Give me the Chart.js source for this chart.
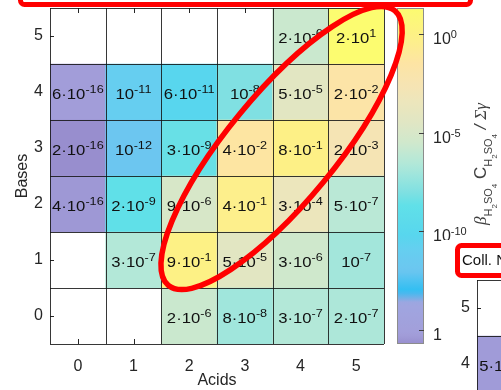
<!DOCTYPE html>
<html>
<head>
<meta charset="utf-8">
<script src="https://cdn.jsdelivr.net/npm/chart.js@4/dist/chart.umd.min.js"></script>
<style>
  html, body { margin: 0; padding: 0; background: #fff; overflow: hidden; width: 501px; height: 390px; }
  body { position: relative; }
  #main { position: absolute; left: 0; top: 0; }
  #side { position: absolute; left: 442px; top: 240px; }
</style>
</head>
<body>
<canvas id="main" width="501" height="390"></canvas>
<canvas id="side" width="380" height="440"></canvas>
<script>
// ---- data ---------------------------------------------------------------
const acids = ['0', '1', '2', '3', '4', '5'];
const bases = [0, 1, 2, 3, 4, 5];

// normalised rate per (bases, acids) cluster; null = no cluster
const base0 = [null, null, 2e-6, 8e-8, 3e-7, 2e-7];
const base1 = [null, 3e-7, 9e-1, 5e-5, 3e-6, 1e-7];
const base2 = [4e-16, 2e-9, 9e-6, 4e-1, 3e-4, 5e-7];
const base3 = [2e-16, 1e-12, 3e-9, 4e-2, 8e-1, 2e-3];
const base4 = [6e-16, 1e-11, 6e-11, 1e-8, 5e-5, 2e-2];
const base5 = [null, null, null, null, 2e-6, 2e1];

const colorbarTicks = [1e0, 1e-5, 1e-10, 1e-15];

// neighbouring panel (collision nucleation)
const collTitle = 'Coll. Nucl.';
const collBase4 = [5e-16];

// ---- styling ------------------------------------------------------------
const FONT = "'Liberation Sans', Arial, Helvetica, sans-serif";
const SERIF = "'Liberation Serif', 'DejaVu Serif', serif";
const INK = '#262626';

// colour ramp, keyed on log10 of the value (top -> bottom of the colour bar)
const ramp = [
  [1.3,   [252, 252, 112]],
  [0.0,   [253, 241, 132]],
  [-0.5,  [253, 238, 142]],
  [-1.5,  [253, 228, 164]],
  [-2.7,  [245, 228, 180]],
  [-3.5,  [236, 230, 188]],
  [-4.5,  [224, 230, 196]],
  [-5.5,  [208, 232, 204]],
  [-6.5,  [180, 232, 216]],
  [-7.1,  [160, 230, 220]],
  [-8.0,  [128, 224, 226]],
  [-8.7,  [96, 224, 232]],
  [-10.2, [88, 214, 238]],
  [-11.0, [102, 206, 240]],
  [-12.0, [108, 198, 240]],
  [-13.0, [48, 190, 242]],
  [-13.6, [160, 166, 224]],
  [-15.2, [162, 158, 218]],
  [-15.7, [152, 142, 206]]
];
function rampColor(lv) {
  if (lv >= ramp[0][0]) return ramp[0][1];
  for (let i = 1; i < ramp.length; i++) {
    if (lv >= ramp[i][0]) {
      const [a, ca] = ramp[i - 1];
      const [b, cb] = ramp[i];
      const t = (lv - b) / (a - b);
      return cb.map((c, k) => Math.round(c + (ca[k] - c) * t));
    }
  }
  return ramp[ramp.length - 1][1];
}
const css = c => `rgb(${c[0]},${c[1]},${c[2]})`;

const allValues = [base0, base1, base2, base3, base4, base5].flat().filter(v => v != null);
const logMin = Math.log10(Math.min(...allValues));
const logMax = Math.log10(Math.max(...allValues));

function heatDatasets(rowIds, rowValues) {
  return rowValues.map((vals, r) => ({
    label: 'Bases ' + rowIds[r],
    data: vals.map(v => (v == null ? null : [rowIds[r] - 0.5, rowIds[r] + 0.5])),
    values: vals,
    backgroundColor: vals.map(v => (v == null ? 'rgba(0,0,0,0)' : css(rampColor(Math.log10(v))))),
    borderWidth: 0,
    barPercentage: 1,
    categoryPercentage: 1,
    grouped: false
  }));
}

// "m·10^e" with a raised exponent; sx widens the glyphs horizontally
function powParts(v) {
  let e = Math.floor(Math.log10(v) + 1e-9);
  let m = Math.round(v / Math.pow(10, e));
  if (m === 10) { m = 1; e += 1; }
  return { base: m === 1 ? '10' : m + '\u00b710', exp: String(e) };
}
function drawPow(ctx, v, x, baseline, size, supSize, align, sx = 1) {
  const p = powParts(v);
  ctx.font = `${size}px ${FONT}`;
  const wb = ctx.measureText(p.base).width * sx;
  ctx.font = `${supSize}px ${FONT}`;
  const we = ctx.measureText(p.exp).width * sx;
  const x0 = align === 'center' ? x - (wb + we) / 2 : x;
  ctx.save();
  ctx.textAlign = 'left';
  ctx.textBaseline = 'alphabetic';
  ctx.translate(x0, baseline);
  ctx.scale(sx, 1);
  ctx.font = `${size}px ${FONT}`;
  ctx.fillText(p.base, 0, 0);
  ctx.font = `${supSize}px ${FONT}`;
  ctx.fillText(p.exp, wb / sx, -6);
  ctx.restore();
}

function drawRich(ctx, parts) {
  let w = 0;
  parts.forEach(p => { ctx.font = p.f; p.w = ctx.measureText(p.t).width; w += p.w; });
  let x = -w / 2;
  parts.forEach(p => { ctx.font = p.f; ctx.fillText(p.t, x, p.dy); x += p.w; });
}

const line = (ctx, x1, y1, x2, y2) => { ctx.beginPath(); ctx.moveTo(x1, y1); ctx.lineTo(x2, y2); ctx.stroke(); };
const crisp = v => Math.round(v) + 0.5;

// ticks pointing into the plot, drawn underneath the cells
function inwardTicks(chart, opts) {
  const { ctx, chartArea: a } = chart;
  const xs = chart.scales.x, ys = chart.scales.y;
  ctx.save();
  ctx.strokeStyle = INK; ctx.lineWidth = 1;
  xs.ticks.forEach((t, i) => {
    const px = crisp(xs.getPixelForTick(i));
    line(ctx, px, a.bottom, px, a.bottom - 5);
    if (opts.top) line(ctx, px, a.top, px, a.top + 5);
  });
  ys.ticks.forEach(t => {
    const py = crisp(ys.getPixelForValue(t.value));
    line(ctx, a.left, py, a.left + 4, py);
  });
  ctx.restore();
}

// cell borders plus the value written into every cell
function cellGridAndLabels(chart) {
  const { ctx, chartArea: a } = chart;
  const xs = chart.scales.x, ys = chart.scales.y;
  ctx.save();
  ctx.strokeStyle = 'rgba(20,20,20,0.85)';
  ctx.lineWidth = 1;
  for (let i = 0; i <= xs.ticks.length; i++) {
    const px = crisp(xs.getPixelForValue(i - 0.5));
    line(ctx, px, a.top, px, a.bottom);
  }
  for (let b = ys.min; b <= ys.max + 1e-6; b += 1) {
    const py = crisp(ys.getPixelForValue(b));
    line(ctx, a.left, py, a.right, py);
  }
  ctx.fillStyle = '#111';
  chart.data.datasets.forEach((ds, di) => {
    const meta = chart.getDatasetMeta(di);
    meta.data.forEach((el, i) => {
      const v = ds.values[i];
      if (v == null || !el) return;
      const cy = (el.y + el.base) / 2;
      drawPow(ctx, v, el.x, cy + 7, 14.5, 11, 'center', 1.15);
    });
  });
  ctx.restore();
}

const whiteBg = {
  id: 'whiteBg',
  beforeDraw(chart) {
    const { ctx } = chart;
    ctx.save(); ctx.fillStyle = '#fff'; ctx.fillRect(0, 0, chart.width, chart.height); ctx.restore();
  }
};

// highlight ring drawn around the diagonal band of fast clusters
const ring = { acid: 3.66, base: 3.0, rx: 178, ry: 54, tilt: -50.5 };

const heatMain = {
  id: 'heatMain',
  beforeDatasetsDraw(chart) { inwardTicks(chart, { top: true }); },
  afterDatasetsDraw(chart) {
    cellGridAndLabels(chart);
    const { ctx } = chart;
    const cb = chart.scales.cb;
    const x0 = cb.left + 13, w = 27;
    const yTop = cb.getPixelForValue(cb.max), yBot = cb.getPixelForValue(cb.min);
    ctx.save();
    const g = ctx.createLinearGradient(0, yBot, 0, yTop);
    const n = 80;
    for (let i = 0; i <= n; i++) {
      const lv = cb.min + (cb.max - cb.min) * i / n;
      g.addColorStop(i / n, css(rampColor(lv)));
    }
    ctx.fillStyle = g;
    ctx.fillRect(x0, yTop, w, yBot - yTop);
    ctx.strokeStyle = '#8c8c8c'; ctx.lineWidth = 1;
    ctx.strokeRect(x0 + 0.5, Math.round(yTop) + 0.5, w - 1, Math.round(yBot - yTop) - 1);
    ctx.strokeStyle = '#404040';
    ctx.fillStyle = INK;
    colorbarTicks.forEach(t => {
      const py = crisp(cb.getPixelForValue(Math.log10(t)));
      line(ctx, x0 + w - 5, py, x0 + w, py);
      drawPow(ctx, t, x0 + w + 9, py + 9, 16, 11, 'left');
    });
    // colour bar title
    ctx.translate(x0 + w + 62, (yTop + yBot) / 2 - 12);
    ctx.rotate(-Math.PI / 2);
    ctx.fillStyle = '#404040';
    ctx.textBaseline = 'alphabetic';
    const big = `17px ${FONT}`, sub = `11px ${FONT}`, sub2 = `8px ${FONT}`;
    const greek = `italic 17px ${SERIF}`;
    drawRich(ctx, [
      { t: '\u03b2', f: greek, dy: 0 },
      { t: 'H', f: sub, dy: 6 }, { t: '2', f: sub2, dy: 11 }, { t: 'SO', f: sub, dy: 6 }, { t: '4', f: sub2, dy: 11 },
      { t: ' C', f: big, dy: 0 },
      { t: 'H', f: sub, dy: 6 }, { t: '2', f: sub2, dy: 11 }, { t: 'SO', f: sub, dy: 6 }, { t: '4', f: sub2, dy: 11 },
      { t: ' / ', f: `italic 17px ${FONT}`, dy: 0 },
      { t: '\u03a3\u03b3', f: greek, dy: 0 }
    ]);
    ctx.restore();
  },
  afterDraw(chart) {
    const { ctx } = chart;
    ctx.save();
    // framed title strip along the top edge
    ctx.strokeStyle = '#ff0000';
    ctx.lineWidth = 5;
    ctx.beginPath();
    ctx.roundRect(20.5, -30, 450, 34.5, 4);
    ctx.stroke();
    // ring
    const cx = chart.scales.x.getPixelForValue(ring.acid);
    const cy = chart.scales.y.getPixelForValue(ring.base);
    ctx.lineWidth = 5.5;
    ctx.beginPath();
    ctx.ellipse(cx, cy, ring.rx, ring.ry, ring.tilt * Math.PI / 180, 0, Math.PI * 2);
    ctx.stroke();
    ctx.restore();
  }
};

const tickFont = { family: FONT, size: 16 };

new Chart(document.getElementById('main'), {
  type: 'bar',
  data: { labels: acids, datasets: heatDatasets(bases, [base0, base1, base2, base3, base4, base5]) },
  options: {
    responsive: false,
    animation: false,
    devicePixelRatio: 1,
    layout: { padding: { top: 8, left: 0, right: 0, bottom: 0 } },
    plugins: { legend: { display: false }, tooltip: { enabled: false } },
    scales: {
      x: {
        type: 'category',
        offset: true,
        grid: { display: false, drawTicks: false },
        border: { display: false },
        ticks: { font: tickFont, color: INK, padding: 13, maxRotation: 0 },
        title: { display: true, text: 'Acids', font: tickFont, color: INK, padding: 0 },
        afterFit: s => { s.height = 46; s.paddingLeft = 0; s.paddingRight = 0; }
      },
      y: {
        type: 'linear',
        min: -0.5,
        max: 5.5,
        afterBuildTicks: s => { s.ticks = bases.map(v => ({ value: v })); },
        grid: { display: false, drawTicks: false },
        border: { display: false },
        ticks: { font: tickFont, color: INK, padding: 7 },
        title: { display: true, text: 'Bases', font: tickFont, color: INK, padding: { top: 13, bottom: 0 } },
        afterFit: s => { s.width = 50; s.paddingTop = 0; s.paddingBottom = 0; }
      },
      cb: {
        type: 'linear',
        position: 'right',
        min: logMin,
        max: logMax,
        grid: { display: false, drawTicks: false },
        border: { display: false },
        ticks: { display: false },
        afterFit: s => { s.width = 117; s.paddingTop = 0; s.paddingBottom = 0; }
      }
    }
  },
  plugins: [whiteBg, heatMain]
});

// ---- neighbouring panel -------------------------------------------------
const sidePanel = {
  id: 'sidePanel',
  beforeDatasetsDraw(chart) { inwardTicks(chart, { top: false }); },
  afterDatasetsDraw(chart) { cellGridAndLabels(chart); },
  afterDraw(chart) {
    const { ctx } = chart;
    ctx.save();
    ctx.fillStyle = '#fff';
    ctx.strokeStyle = '#ff0000';
    ctx.lineWidth = 5;
    ctx.beginPath();
    ctx.roundRect(15.5, 5.5, 400, 30, 4);
    ctx.fill();
    ctx.stroke();
    ctx.fillStyle = '#111';
    ctx.font = `15px ${FONT}`;
    ctx.textBaseline = 'middle';
    ctx.textAlign = 'left';
    ctx.fillText(collTitle, 20, 21);
    ctx.restore();
  }
};

new Chart(document.getElementById('side'), {
  type: 'bar',
  data: { labels: acids, datasets: heatDatasets([4], [collBase4]) },
  options: {
    responsive: false,
    animation: false,
    devicePixelRatio: 1,
    layout: { padding: { top: 40, left: 0, right: 9, bottom: 0 } },
    plugins: { legend: { display: false }, tooltip: { enabled: false } },
    scales: {
      x: {
        type: 'category',
        offset: true,
        grid: { display: false, drawTicks: false },
        border: { display: false },
        ticks: { font: tickFont, color: INK, padding: 9 },
        afterFit: s => { s.height = 64; s.paddingLeft = 0; s.paddingRight = 0; }
      },
      y: {
        type: 'linear',
        min: -0.5,
        max: 5.5,
        afterBuildTicks: s => { s.ticks = bases.map(v => ({ value: v })); },
        grid: { display: false, drawTicks: false },
        border: { display: false },
        ticks: { font: tickFont, color: INK, padding: 7 },
        afterFit: s => { s.width = 35; s.paddingTop = 0; s.paddingBottom = 0; }
      }
    }
  },
  plugins: [whiteBg, sidePanel]
});
</script>
</body>
</html>
